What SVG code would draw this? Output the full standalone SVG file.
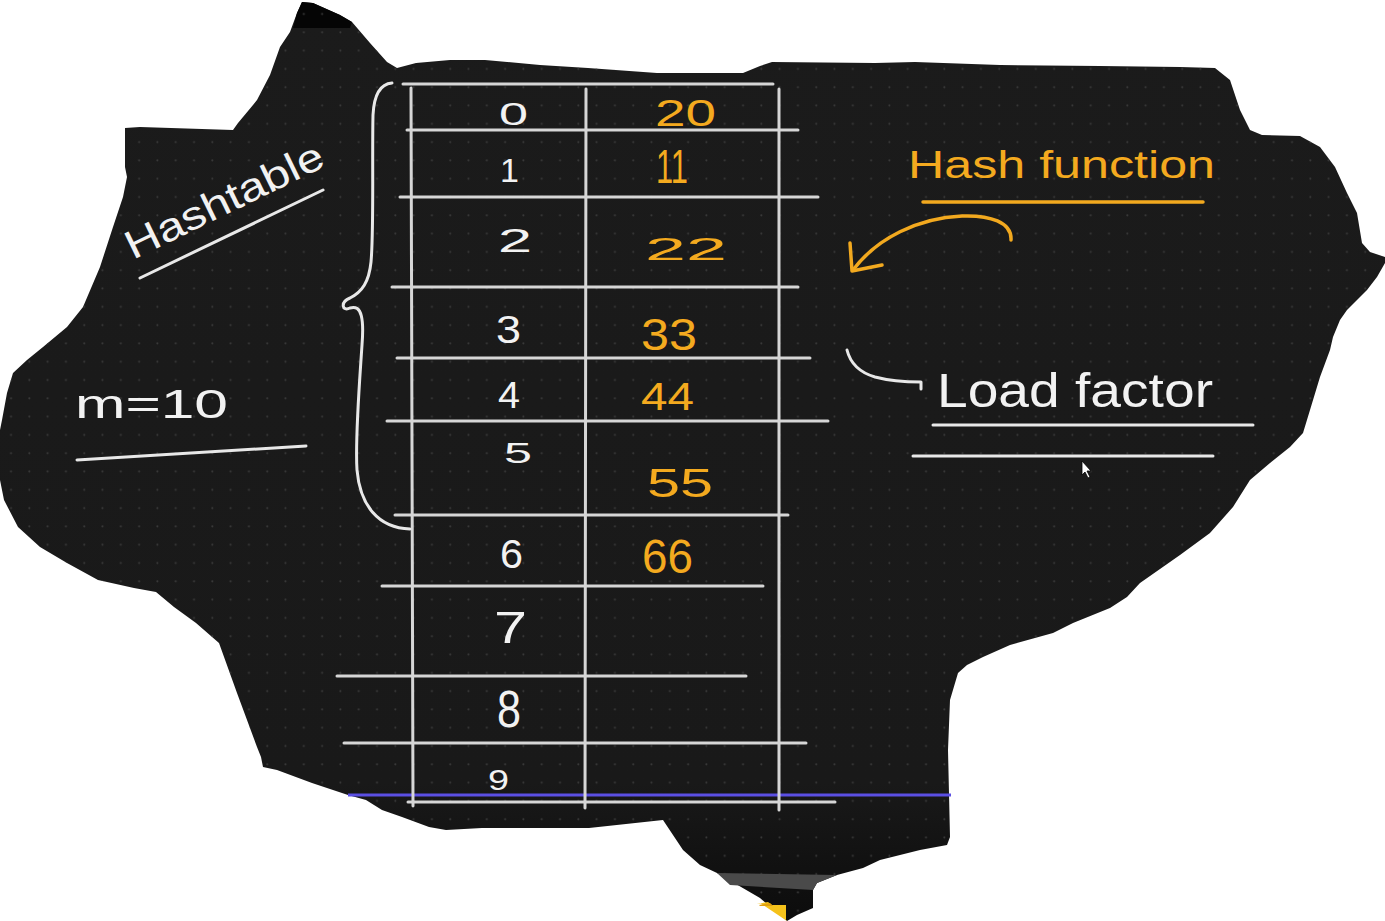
<svg xmlns="http://www.w3.org/2000/svg" width="1385" height="921" viewBox="0 0 1385 921">
<style>
.tl{stroke:#d6d6d6;stroke-width:3;fill:none;stroke-linecap:round}
.wl{stroke:#e8e8e8;stroke-width:3;fill:none;stroke-linecap:round;stroke-linejoin:round}
.ol{stroke:#f2a91f;stroke-width:3.5;fill:none;stroke-linecap:round;stroke-linejoin:round}
.w{fill:#f2f2f2;font-family:"Liberation Sans",Arial,sans-serif}
.o{fill:#f4aa1f;font-family:"Liberation Sans",Arial,sans-serif}
</style>
<defs>
<pattern id="dots" x="2" y="5" width="18.3" height="18.3" patternUnits="userSpaceOnUse">
<circle cx="9" cy="9" r="1" fill="#3a3a3a"/>
</pattern>
<linearGradient id="bg" x1="0" y1="0" x2="0" y2="1">
<stop offset="0" stop-color="#1b1b1b"/>
<stop offset="0.85" stop-color="#191919"/>
<stop offset="1" stop-color="#0c0c0c"/>
</linearGradient>
<path id="blob" d="M302,2 L313,3 L340,15 L352,22 L370,43 L387,62 L397,68 L416,63 L450,60 L485,60 L540,65 L588,68 L657,73 L743,73 L760,66 L772,62 L875,63 L915,62 L1000,65 L1100,66 L1180,67 L1215,68 L1230,80 L1240,110 L1250,130 L1262,135 L1300,136 L1320,147 L1335,167 L1347,193 L1357,213 L1362,243 L1370,252 L1385,257 L1385,263 L1377,277 L1367,290 L1347,310 L1340,320 L1333,337 L1330,350 L1320,377 L1310,410 L1303,433 L1290,447 L1270,463 L1250,480 L1233,507 L1210,533 L1180,555 L1140,583 L1127,597 L1110,608 L1073,623 L1053,633 L1010,645 L983,657 L967,665 L958,673 L950,700 L948,750 L950,837 L947,845 L920,850 L880,860 L863,868 L837,875 L817,883 L813,890 L813,908 L797,915 L787,921 L760,898 L717,873 L700,865 L683,850 L663,820 L589,828 L482,828 L446,830 L429,827 L402,817 L382,810 L366,800 L348,795 L312,783 L277,770 L263,767 L261,757 L257,747 L237,693 L219,643 L196,623 L174,607 L156,592 L134,588 L98,580 L67,563 L40,547 L18,527 L4,500 L0,480 L0,430 L2,420 L7,393 L13,373 L27,360 L43,347 L67,327 L83,307 L100,267 L113,227 L123,197 L127,177 L125,167 L125,128 L140,127 L233,130 L238,123 L243,117 L253,105 L257,100 L270,75 L280,47 L290,32 L297,13 Z"/>
</defs>
<rect width="1385" height="921" fill="#ffffff"/>
<g id="board">
<use href="#blob" fill="url(#bg)"/>
<path d="M302,2 L313,3 L340,15 L352,22 L350,28 L293,28 L297,13 Z" fill="#050505"/>
<use href="#blob" fill="url(#dots)"/>
<path d="M717,873 L837,875 L817,883 L813,890 L730,885 Z" fill="#4a4a4a"/>
<path d="M757,904 L768,902 L772,905 L786,905 L786,921 L787,921 L760,903 Z" fill="#f5c21b"/>
<path d="M759,905 L770,903 L773,906 L760,906 Z" fill="#e0a010"/>
<line x1="348" y1="795" x2="951" y2="795" stroke="#5b4fe3" stroke-width="3"/>
</g>
<g id="table">
<line class="tl" x1="403" y1="84" x2="773" y2="84"/>
<line class="tl" x1="407" y1="130" x2="798" y2="130"/>
<line class="tl" x1="400" y1="197" x2="818" y2="197"/>
<line class="tl" x1="392" y1="287" x2="798" y2="287"/>
<line class="tl" x1="397" y1="358" x2="810" y2="358"/>
<line class="tl" x1="387" y1="421" x2="828" y2="421"/>
<line class="tl" x1="395" y1="515" x2="788" y2="515"/>
<line class="tl" x1="382" y1="586" x2="763" y2="586"/>
<line class="tl" x1="337" y1="676" x2="746" y2="676"/>
<line class="tl" x1="344" y1="743" x2="806" y2="743"/>
<line class="tl" x1="408" y1="802" x2="835" y2="802"/>
<line class="tl" x1="411" y1="88" x2="413" y2="806"/>
<line class="tl" x1="586" y1="89" x2="585" y2="808"/>
<line class="tl" x1="779" y1="89" x2="779" y2="810"/>
</g>
<g id="brace">
<path class="wl" d="M392,83 C380,84 374,95 373,115 C372,160 374,230 371,262 C369,282 362,292 350,298 C340,302 342,312 350,308 C362,304 364,320 362,345 C359,390 355,440 357,470 C360,505 378,528 410,529"/>
</g>
<g id="index-labels">
<text class="w" x="499" y="125" font-size="31" textLength="29" lengthAdjust="spacingAndGlyphs">0</text>
<text class="w" x="500" y="182" font-size="34">1</text>
<text class="w" x="498" y="252" font-size="34" textLength="34" lengthAdjust="spacingAndGlyphs">2</text>
<text class="w" x="496" y="343" font-size="39" textLength="25" lengthAdjust="spacingAndGlyphs">3</text>
<text class="w" x="498" y="408" font-size="36" textLength="22" lengthAdjust="spacingAndGlyphs">4</text>
<text class="w" x="504" y="463" font-size="29" textLength="28" lengthAdjust="spacingAndGlyphs">5</text>
<text class="w" x="500" y="568" font-size="41" textLength="23" lengthAdjust="spacingAndGlyphs">6</text>
<text class="w" x="494" y="643" font-size="45" textLength="33" lengthAdjust="spacingAndGlyphs">7</text>
<text class="w" x="497" y="727" font-size="51" textLength="24" lengthAdjust="spacingAndGlyphs">8</text>
<text class="w" x="488" y="790" font-size="30" textLength="21" lengthAdjust="spacingAndGlyphs">9</text>
</g>
<g id="value-labels">
<text class="o" x="655" y="126" font-size="37" textLength="61" lengthAdjust="spacingAndGlyphs">20</text>
<text class="o" x="656" y="183" font-size="48" textLength="32" lengthAdjust="spacingAndGlyphs">11</text>
<text class="o" x="645" y="260" font-size="32" textLength="82" lengthAdjust="spacingAndGlyphs">22</text>
<text class="o" x="641" y="350" font-size="44" textLength="56" lengthAdjust="spacingAndGlyphs">33</text>
<text class="o" x="641" y="410" font-size="39" textLength="53" lengthAdjust="spacingAndGlyphs">44</text>
<text class="o" x="647" y="497" font-size="40" textLength="66" lengthAdjust="spacingAndGlyphs">55</text>
<text class="o" x="642" y="573" font-size="49" textLength="51" lengthAdjust="spacingAndGlyphs">66</text>
</g>
<g id="hashtable-label">
<text class="w" transform="translate(133,260) rotate(-26)" font-size="40" textLength="216" lengthAdjust="spacingAndGlyphs">Hashtable</text>
<line class="wl" x1="140" y1="278" x2="323" y2="190"/>
</g>
<g id="m-label">
<text class="w" x="75" y="418" font-size="40" textLength="153" lengthAdjust="spacingAndGlyphs">m=10</text>
<line class="wl" x1="77" y1="460" x2="306" y2="446"/>
</g>
<g id="hash-function">
<text class="o" x="908" y="178" font-size="38" textLength="307" lengthAdjust="spacingAndGlyphs">Hash function</text>
<line class="ol" x1="923" y1="202" x2="1203" y2="202"/>
</g>
<g id="load-factor">
<text class="w" x="937" y="407" font-size="49" textLength="276" lengthAdjust="spacingAndGlyphs">Load factor</text>
<line class="wl" x1="933" y1="425" x2="1253" y2="425"/>
<line class="wl" x1="913" y1="456" x2="1213" y2="456"/>
</g>
<g id="connectors">
<path class="ol" d="M1011,240 C1012,222 990,215 962,216 C918,218 877,238 853,270"/>
<path class="ol" d="M850,243 L852,271 L882,265"/>
<path class="wl" d="M847,350 C850,362 858,372 875,377 C890,381 905,382 921,382 L921,389"/>
</g>
<g id="cursor">
<path d="M1082,461 L1082,475 L1085,472 L1088,478 L1090,477 L1087,471 L1091,471 Z" fill="#ffffff" stroke="#000000" stroke-width="0.8"/>
</g>
</svg>
